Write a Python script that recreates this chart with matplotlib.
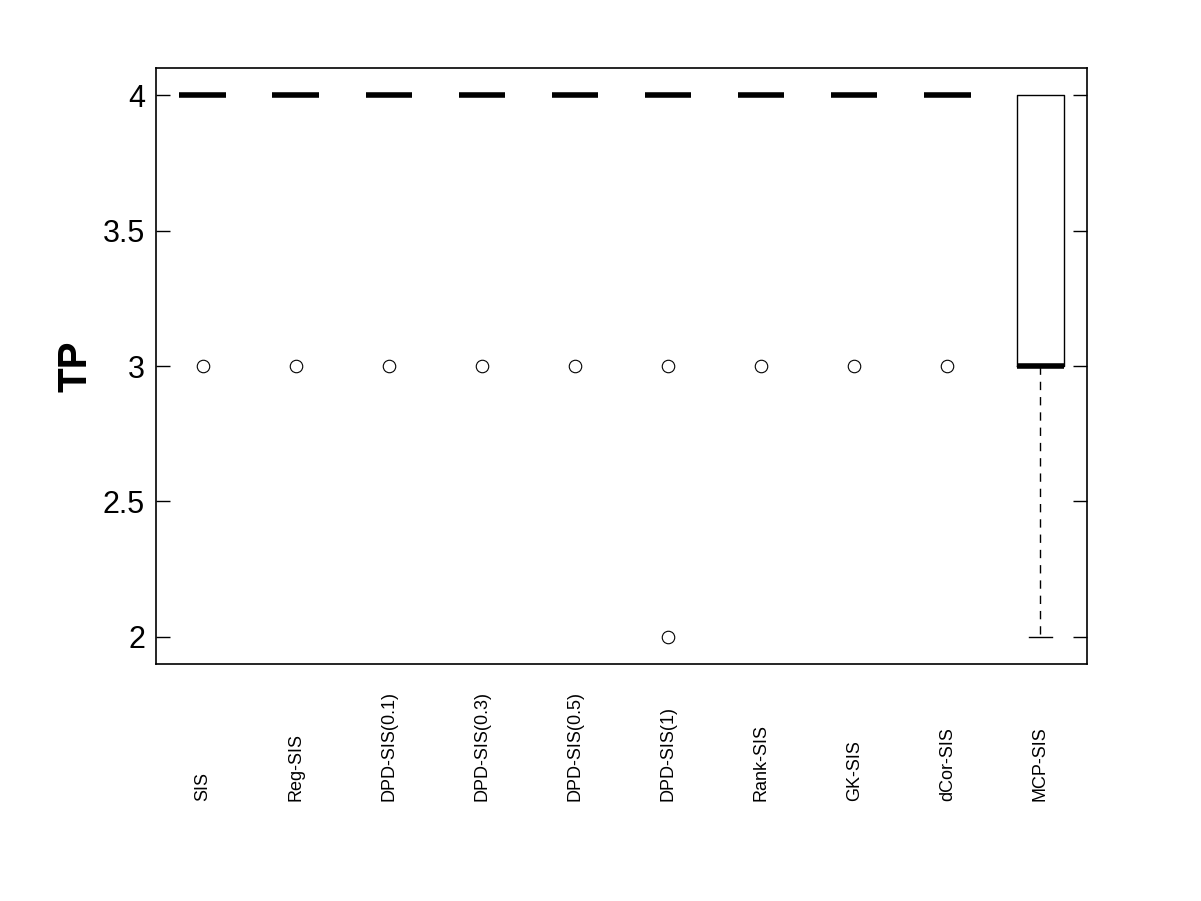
import numpy as np
import matplotlib.pyplot as plt
import matplotlib.transforms as mtransforms

plt.rcParams['font.family'] = ['Liberation Sans', 'DejaVu Sans']

methods = ['SIS', 'Reg-SIS', 'DPD-SIS(0.1)', 'DPD-SIS(0.3)', 'DPD-SIS(0.5)',
           'DPD-SIS(1)', 'Rank-SIS', 'GK-SIS', 'dCor-SIS', 'MCP-SIS']
medians = [4, 4, 4, 4, 4, 4, 4, 4, 4, 3]
q1 = [4, 4, 4, 4, 4, 4, 4, 4, 4, 3]
q3 = [4, 4, 4, 4, 4, 4, 4, 4, 4, 4]
whislo = [4, 4, 4, 4, 4, 4, 4, 4, 4, 2]
whishi = [4, 4, 4, 4, 4, 4, 4, 4, 4, 4]
outliers = [[3], [3], [3], [3], [3], [3, 2], [3], [3], [3], []]

stats = []
for i in range(len(methods)):
    stats.append(dict(med=medians[i], q1=q1[i], q3=q3[i],
                      whislo=whislo[i], whishi=whishi[i],
                      fliers=outliers[i], label=methods[i]))

fig = plt.figure(figsize=(12.01, 9.01), dpi=100)
ax = fig.add_axes([0.130, 0.263, 0.775, 0.6615])

pos = np.arange(1, len(methods) + 1)
bp = ax.bxp(stats, positions=pos, widths=0.5, showcaps=True,
            boxprops=dict(color='black', linewidth=1),
            medianprops=dict(color='black', linewidth=4, solid_capstyle='butt'),
            whiskerprops=dict(color='black', linewidth=1, linestyle=(0, (6, 5))),
            capprops=dict(color='black', linewidth=1),
            flierprops=dict(marker='o', markersize=9, markerfacecolor='none',
                            markeredgecolor='black', markeredgewidth=0.8))

# hide caps (and whiskers) that collapse onto the box edge
for i in range(len(methods)):
    lo_cap, hi_cap = bp['caps'][2 * i], bp['caps'][2 * i + 1]
    lo_w, hi_w = bp['whiskers'][2 * i], bp['whiskers'][2 * i + 1]
    if whislo[i] == q1[i]:
        lo_cap.set_visible(False)
        lo_w.set_visible(False)
    if whishi[i] == q3[i]:
        hi_cap.set_visible(False)
        hi_w.set_visible(False)
    if q1[i] == q3[i]:
        bp['boxes'][i].set_visible(False)

ax.set_xlim(0.5, 10.5)
ax.set_ylim(1.9, 4.1)
ax.set_yticks([2, 2.5, 3, 3.5, 4])
ax.set_yticklabels(['2', '2.5', '3', '3.5', '4'])
ax.tick_params(axis='y', direction='in', length=10, width=1, right=True,
               labelsize=22, pad=8)
ax.set_xticks([])
for sp in ax.spines.values():
    sp.set_linewidth(1.2)

ax.set_ylabel('TP', fontsize=29, fontweight='bold', labelpad=6)

trans = mtransforms.blended_transform_factory(ax.transData, ax.transAxes)
for x, name in zip(pos, methods):
    ax.text(x, -0.229, name, rotation=90, ha='center', va='bottom',
            fontsize=13, transform=trans)

fig.savefig('out.png', dpi=100)
